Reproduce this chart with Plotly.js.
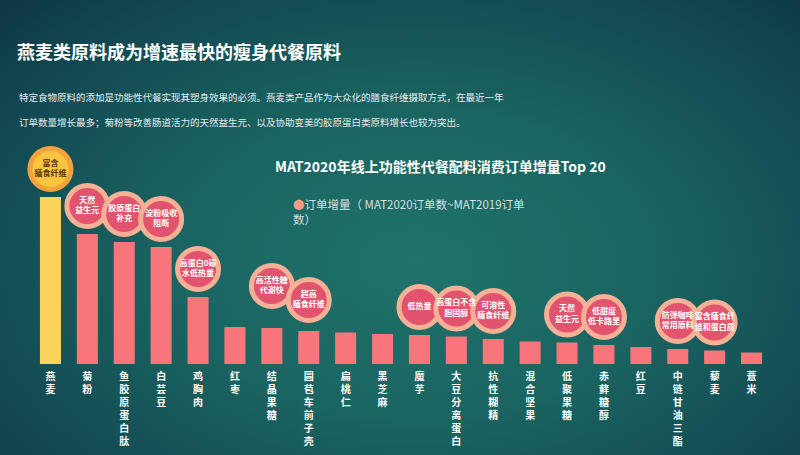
<!DOCTYPE html>
<html>
<head>
<meta charset="utf-8">
<script src="https://cdn.plot.ly/plotly-3.0.1.min.js"></script>
<style>
  html, body { margin:0; padding:0; width:800px; height:455px; overflow:hidden;
    background: radial-gradient(ellipse 75% 85% at 52% 58%, #1f736b 0%, #1a6461 40%, #134a53 75%, #0e3444 100%); }
  #chart { width:800px; height:455px; }
</style>
</head>
<body>
<div id="chart"></div>
<script>
// ---- data ----
const categories = ["燕麦","菊粉","鱼胶原蛋白肽","白芸豆","鸡胸肉","红枣","结晶果糖","圆苞车前子壳","扁桃仁","黑芝麻",
                    "魔芋","大豆分离蛋白","抗性糊精","混合坚果","低聚果糖","赤藓糖醇","红豆","中链甘油三酯","藜麦","薏米"];
const orderIncrease = [167,130,122,117,67,37,36,33,31.5,30,29,27.5,25,22.5,21.5,19,17,15,13.5,11.5];
const tagCategories = ["燕麦","菊粉","鱼胶原蛋白肽","白芸豆","鸡胸肉","结晶果糖","圆苞车前子壳",
                       "魔芋","大豆分离蛋白","抗性糊精","低聚果糖","赤藓糖醇","中链甘油三酯","藜麦"];
const tagTexts = ["富含<br>膳食纤维","天然<br>益生元","胶原蛋白<br>补充","淀粉吸收<br>阻断","高蛋白0碳<br>水低热量",
                  "高活性糖<br>代谢快","超高<br>膳食纤维","低热量","高蛋白不含<br>胆固醇","可溶性<br>膳食纤维",
                  "天然<br>益生元","低甜度<br>低卡路里","防弹咖啡<br>常用原料","富含膳食纤<br>维和蛋白质"];

// ---- layout constants ----
const W = 800, H = 455, M = {l:32, r:30, t:150, b:91};
const plotH = H - M.t - M.b;
const yMax = 214;
const pxToUnit = yMax / plotH;
const bubbleLiftPx = {default: 28, "结晶果糖": 42, "圆苞车前子壳": 31};

const FONT = '"Noto Sans CJK SC", "Noto Sans", sans-serif';
const PINK = '#f8767b', YELLOW = '#fbd35a';

const barColors = categories.map((c, i) => i === 0 ? YELLOW : PINK);
const tickText = categories.map(c => c.split('').join('<br>'));

const valueOf = c => orderIncrease[categories.indexOf(c)];
const tagY = tagCategories.map(c => valueOf(c) + (bubbleLiftPx[c] ?? bubbleLiftPx.default) * pxToUnit);
const isTop = c => categories.indexOf(c) === 0;

const bars = {
  type: 'bar', x: categories, y: orderIncrease,
  marker: {color: barColors, line: {width: 0}},
  hoverinfo: 'x+y', showlegend: false
};

const bubbles = {
  type: 'scatter', mode: 'markers+text', x: tagCategories, y: tagY,
  text: tagTexts, textposition: 'middle center',
  textfont: {family: FONT, size: 8, weight: 'bold',
             color: tagCategories.map(c => isTop(c) ? '#5b3a12' : '#ffffff')},
  marker: {size: 41, symbol: 'circle',
           color: tagCategories.map(c => isTop(c) ? '#f7c540' : '#e2536e'),
           line: {width: 5, color: tagCategories.map(c => isTop(c) ? '#f4a23c' : '#f5b096')}},
  cliponaxis: false, hoverinfo: 'skip', showlegend: false
};

const pxX = px => (px - M.l) / (W - M.l - M.r);
const pxY = py => (H - M.b - py) / plotH;

const layout = {
  width: W, height: H, margin: M,
  paper_bgcolor: 'rgba(0,0,0,0)', plot_bgcolor: 'rgba(0,0,0,0)',
  bargap: 0.43,
  title: {text: '燕麦类原料成为增速最快的瘦身代餐原料', x: 17/W, xanchor: 'left', xref: 'container',
          y: 1 - 53/H, yanchor: 'middle', yref: 'container',
          font: {family: FONT, size: 18, weight: 'bold', color: '#ffffff'}},
  xaxis: {type: 'category', range: [-0.5, 19.5], tickvals: categories, ticktext: tickText,
          showgrid: false, zeroline: false, showline: false, ticks: '', ticklabelstandoff: 5,
          tickfont: {family: FONT, size: 10, weight: 'bold', color: '#ffffff'}, tickangle: 0},
  yaxis: {range: [0, yMax], visible: false, showgrid: false, zeroline: false},
  annotations: [
    {text: '特定食物原料的添加是功能性代餐实现其塑身效果的必须。燕麦类产品作为大众化的膳食纤维摄取方式，在最近一年',
     xref: 'paper', yref: 'paper', x: pxX(17), y: pxY(97), xanchor: 'left', yanchor: 'middle', showarrow: false,
     font: {family: FONT, size: 9.5, color: '#e6ecec'}},
    {text: '订单数量增长最多；菊粉等改善肠道活力的天然益生元、以及协助变美的胶原蛋白类原料增长也较为突出。',
     xref: 'paper', yref: 'paper', x: pxX(17), y: pxY(122), xanchor: 'left', yanchor: 'middle', showarrow: false,
     font: {family: FONT, size: 9.5, color: '#e6ecec'}},
    {text: 'MAT2020年线上功能性代餐配料消费订单增量Top 20',
     xref: 'paper', yref: 'paper', x: pxX(440), y: pxY(166), xanchor: 'center', yanchor: 'middle', showarrow: false,
     font: {family: FONT, size: 14, weight: 'bold', color: '#ffffff'}},
    {text: '<span style="color:#f59c88">●</span>订单增量（ MAT2020订单数~MAT2019订单<br>数）',
     xref: 'paper', yref: 'paper', x: pxX(291), y: pxY(194), xanchor: 'left', yanchor: 'top', align: 'left', showarrow: false,
     font: {family: FONT, size: 11.5, color: '#d9dfdf'}}
  ]
};

Plotly.newPlot('chart', [bars, bubbles], layout, {displayModeBar: false, responsive: false});
</script>
</body>
</html>
